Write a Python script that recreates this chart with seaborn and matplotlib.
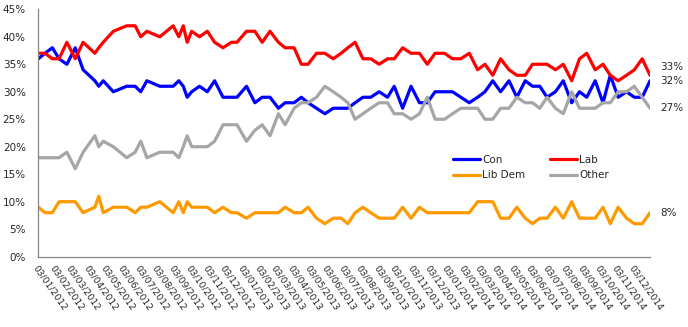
import matplotlib
matplotlib.use("Agg")
import matplotlib.pyplot as plt
from matplotlib.lines import Line2D
import pandas as pd
import seaborn as sns

# Voting-intention polls, 2012-2014 (percent)
poll_dates = [
    "2012-01-03", "2012-01-15", "2012-01-28", "2012-02-09", "2012-02-23", "2012-03-09",
    "2012-03-23", "2012-04-13", "2012-04-20", "2012-04-28", "2012-05-16", "2012-06-09",
    "2012-06-24", "2012-07-04", "2012-07-15", "2012-08-07", "2012-08-31", "2012-09-10",
    "2012-09-18", "2012-09-25", "2012-10-03", "2012-10-17", "2012-10-31", "2012-11-13",
    "2012-11-28", "2012-12-13", "2012-12-23", "2013-01-09", "2013-01-24", "2013-02-06",
    "2013-02-20", "2013-03-07", "2013-03-19", "2013-04-04", "2013-04-17", "2013-04-29",
    "2013-05-14", "2013-05-29", "2013-06-13", "2013-06-27", "2013-07-09", "2013-07-22",
    "2013-08-05", "2013-08-19", "2013-09-03", "2013-09-18", "2013-09-30", "2013-10-15",
    "2013-10-30", "2013-11-14", "2013-11-28", "2013-12-12", "2013-12-29", "2014-01-12",
    "2014-01-27", "2014-02-11", "2014-02-26", "2014-03-11", "2014-03-25", "2014-04-08",
    "2014-04-23", "2014-05-07", "2014-05-22", "2014-06-04", "2014-06-17", "2014-06-30",
    "2014-07-15", "2014-07-29", "2014-08-13", "2014-08-27", "2014-09-09", "2014-09-24",
    "2014-10-08", "2014-10-21", "2014-11-04", "2014-11-19", "2014-12-03", "2014-12-17",
    "2014-12-31",
]

con = [
    36, 37, 38, 36, 35, 38, 34, 32, 31, 32,
    30, 31, 31, 30, 32, 31, 31, 32, 31, 29, 30,
    31, 30, 32, 29, 29, 29,
    31, 28, 29, 29, 27, 28, 28, 29, 28, 27, 26, 27, 27, 27, 28,
    29, 29, 30, 29, 31, 27, 31, 28, 28, 30, 30,
    30, 29, 28, 29, 30, 32, 30, 32, 29, 32, 31, 31, 29, 30, 32, 28, 30, 29, 32, 28, 33,
    29, 30, 29, 29, 32,
]

lab = [
    37, 37, 36, 36, 39, 36, 39, 37, 38, 39,
    41, 42, 42, 40, 41, 40, 42, 40, 42, 39, 41,
    40, 41, 39, 38, 39, 39,
    41, 41, 39, 41, 39, 38, 38, 35, 35, 37, 37, 36, 37, 38, 39,
    36, 36, 35, 36, 36, 38, 37, 37, 35, 37, 37,
    36, 36, 37, 34, 35, 33, 36, 34, 33, 33, 35, 35, 35, 34, 35, 32, 36, 37, 34, 35, 33,
    32, 33, 34, 36, 33,
]

lib_dem = [
    9, 8, 8, 10, 10, 10, 8, 9, 11, 8,
    9, 9, 8, 9, 9, 10, 8, 10, 8, 10, 9,
    9, 9, 8, 9, 8, 8,
    7, 8, 8, 8, 8, 9, 8, 8, 9, 7, 6, 7, 7, 6, 8,
    9, 8, 7, 7, 7, 9, 7, 9, 8, 8, 8,
    8, 8, 8, 10, 10, 10, 7, 7, 9, 7, 6, 7, 7, 9, 7, 10, 7, 7, 7, 9, 6,
    9, 7, 6, 6, 8,
]

other = [
    18, 18, 18, 18, 19, 16, 19, 22, 20, 21,
    20, 18, 19, 21, 18, 19, 19, 18, 20, 22, 20,
    20, 20, 21, 24, 24, 24,
    21, 23, 24, 22, 26, 24, 27, 28, 28, 29, 31, 30, 29, 28, 25,
    26, 27, 28, 28, 26, 26, 25, 26, 29, 25, 25,
    26, 27, 27, 27, 25, 25, 27, 27, 29, 28, 28, 27, 29, 27, 26, 30, 27, 27, 27, 28, 28,
    30, 30, 31, 29, 27,
]

parties = ["Con", "Lab", "Lib Dem", "Other"]
colours = {"Con": "#0000FF", "Lab": "#FF0000", "Lib Dem": "#FF9900", "Other": "#A6A6A6"}

df = pd.DataFrame({
    "date": pd.to_datetime(poll_dates),
    "Con": con, "Lab": lab, "Lib Dem": lib_dem, "Other": other,
})
long_df = df.melt(id_vars="date", var_name="party", value_name="share")

sns.set_style("white")
plt.rcParams["font.family"] = ["DejaVu Sans"]

fig = plt.figure(figsize=(6.88, 3.27), dpi=100)
ax = fig.add_axes([0.0557, 0.215, 0.8891, 0.7566])

line_w = 2.3
sns.lineplot(data=long_df, x="date", y="share", hue="party", hue_order=parties,
             palette=colours, linewidth=line_w, estimator=None, legend=False, ax=ax)

# axes
ax.set_xlim(df["date"].iloc[0], df["date"].iloc[-1])
ax.set_ylim(0, 45)
yticks = list(range(0, 50, 5))
ax.set_yticks(yticks)
ax.set_yticklabels([f"{t}%" for t in yticks])

tick_dates = pd.date_range("2012-01-03", "2014-12-03", freq=pd.DateOffset(months=1))
ax.set_xticks(tick_dates)
ax.set_xticklabels([d.strftime("%d/%m/%Y") for d in tick_dates])
plt.setp(ax.get_xticklabels(), rotation=-55, ha="left", va="top",
         rotation_mode="anchor", fontsize=6.6)
ax.tick_params(axis="x", length=0, pad=5)
ax.tick_params(axis="y", length=0, pad=9, labelsize=7.5)
ax.set_xlabel("")
ax.set_ylabel("")
ax.grid(False)

for side in ("top", "right"):
    ax.spines[side].set_visible(False)
for side in ("left", "bottom"):
    ax.spines[side].set_color("#868686")
    ax.spines[side].set_linewidth(0.9)

# legend: Con / Lab on the first row, Lib Dem / Other on the second
legend_order = ["Con", "Lib Dem", "Lab", "Other"]
handles = [Line2D([], [], color=colours[p], linewidth=line_w) for p in legend_order]
ax.legend(handles, legend_order, ncol=2, frameon=False, loc="upper left",
          bbox_to_anchor=(453 / 688, 1 - 155 / 327), bbox_transform=fig.transFigure,
          borderpad=0, borderaxespad=0, handlelength=2.6, handletextpad=0.2,
          columnspacing=2.4, labelspacing=0.5, fontsize=7.5)

# latest value beside the end of each line
last_date = df["date"].iloc[-1]
label_shift = {"Con": 0, "Lab": 8.6, "Lib Dem": 0, "Other": 0}
for p in parties:
    v = df[p].iloc[-1]
    ax.annotate(f"{v}%", xy=(last_date, v), xytext=(10, label_shift[p]),
                textcoords="offset pixels", ha="left", va="center", fontsize=7.5,
                annotation_clip=False)

fig.savefig("out.png", dpi=100)
